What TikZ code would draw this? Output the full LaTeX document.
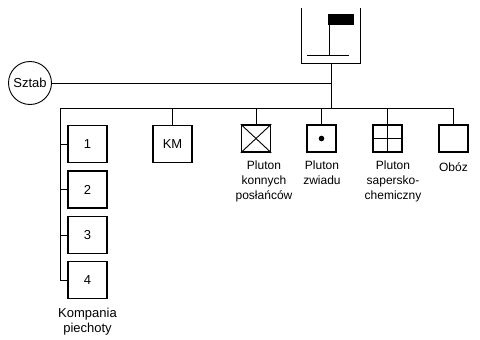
\documentclass[tikz,border=0pt]{standalone}
\usepackage{fontspec}
\setmainfont{Liberation Sans}
\begin{document}
\begin{tikzpicture}[x=1pt,y=-1pt,
  font=\fontsize{12}{15}\selectfont,
  big/.style={font=\fontsize{13}{15}\selectfont},
  bigbox/.style={draw,big,line width=1.7pt,minimum width=39pt,minimum height=37pt,inner sep=0pt},
  smallbox/.style={draw,line width=1.5pt,minimum width=29pt,minimum height=27pt,inner sep=0pt},
  conn/.style={line width=0.9pt},
  lbl/.style={align=center,inner sep=0pt,anchor=north}]
\useasboundingbox (0,0) rectangle (480,340);
% HQ symbol
\draw[conn] (301,8) -- (301,63) -- (360,63) -- (360,8);
\fill (328,14) rectangle (354,25);
\draw[conn] (329,14) -- (329,55);
\draw[conn] (307,55) -- (349,55);
\coordinate (hqb) at (331,63);
\coordinate (sj) at (331,83);
\coordinate (bus) at (331,108);
\coordinate (bl) at (60,108);
\coordinate (br) at (453.5,108);
% Sztab
\node[draw,circle,big,minimum size=43pt,inner sep=0pt,line width=0.9pt] (sztab) at (30,83) {Sztab};
\draw[conn] (sztab.east) -- (sj);
\draw[conn] (hqb) -- (bus);
\draw[conn] (bl) -- (br);
% companies
\node[bigbox] (k1) at (87.5,144) {1};
\node[bigbox] (k2) at (87.5,189.5) {2};
\node[bigbox] (k3) at (87.5,235) {3};
\node[bigbox] (k4) at (87.5,280) {4};
\draw[conn] (bl) -- (bl |- k4.west);
\foreach \k in {k1,k2,k3,k4} \draw[conn] (\k.west) -- (\k.west -| bl);
\node[lbl,big] (kl) at (87.5,307.5) {Kompania\\piechoty};
% KM
\node[bigbox] (km) at (172.5,144) {KM};
\draw[conn] (km.north) -- (km.north |- bl);
% platoons
\node[smallbox] (kon) at (256,138.5) {};
\node[smallbox] (zw) at (321.5,138.5) {};
\node[smallbox] (sap) at (387.5,138.5) {};
\node[smallbox] (ob) at (453.5,138.5) {};
\foreach \p in {kon,zw,sap,ob} \draw[conn] (\p.north) -- (\p.north |- bl);
\draw[conn] (kon.north west) -- (kon.south east);
\draw[conn] (kon.south west) -- (kon.north east);
\fill (zw.center) circle (2.8);
\draw[conn] (sap.north) -- (sap.south);
\draw[conn] (sap.west) -- (sap.east);
\node[lbl] (konl) at (264,161) {Pluton\\konnych\\posłańców};
\node[lbl] (zwl) at (322,161) {Pluton\\zwiadu};
\node[lbl] (sapl) at (393,161) {Pluton\\sapersko-\\chemiczny};
\node[lbl,anchor=base] (obl) at (453.5,171) {Obóz};
\end{tikzpicture}
\end{document}
